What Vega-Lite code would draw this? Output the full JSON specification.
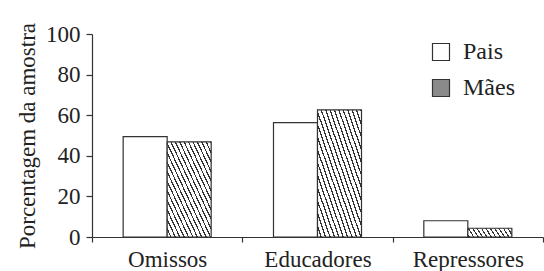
{
  "$schema": "https://vega.github.io/schema/vega-lite/v6.json",
  "autosize": "none",
  "width": 451,
  "height": 203,
  "padding": {"left": 92, "top": 34, "right": 1, "bottom": 34},
  "background": "white",
  "data": {"values": [
    {"categoria": "Omissos", "grupo": "Pais", "valor": 49.4},
    {"categoria": "Omissos", "grupo": "Mães", "valor": 46.9},
    {"categoria": "Educadores", "grupo": "Pais", "valor": 56.3},
    {"categoria": "Educadores", "grupo": "Mães", "valor": 62.6},
    {"categoria": "Repressores", "grupo": "Pais", "valor": 8.0},
    {"categoria": "Repressores", "grupo": "Mães", "valor": 4.3}
  ]},
  "mark": {"type": "bar", "stroke": "#333", "strokeWidth": 1.2},
  "encoding": {
    "x": {"field": "categoria", "type": "nominal", "sort": ["Omissos", "Educadores", "Repressores"],
      "scale": {"paddingInner": 0, "paddingOuter": 0},
      "axis": {"title": null, "labelAngle": 0, "tickBand": "extent", "tickSize": 5, "labelPadding": 6,
        "labelFont": "Liberation Serif", "labelFontSize": 23, "labelColor": "#222"}},
    "xOffset": {"field": "grupo", "type": "nominal", "sort": ["Pais", "Mães"],
      "scale": {"paddingInner": 0, "paddingOuter": 0.708}},
    "y": {"field": "valor", "type": "quantitative",
      "scale": {"domain": [0, 100]},
      "axis": {"title": "Porcentagem da amostra", "values": [0, 20, 40, 60, 80, 100], "grid": false, "tickSize": 6, "labelPadding": 6, "titlePadding": 6,
        "labelFont": "Liberation Serif", "labelFontSize": 23, "labelColor": "#222"}},
    "fill": {
      "condition": {"test": "datum.grupo === 'Mães'", "value": {"gradient": "linear", "x1": 0, "y1": 1, "x2": 1, "y2": 0, "stops": [
        {"offset": 0, "color": "white"}, {"offset": 0.035, "color": "white"}, {"offset": 0.035, "color": "#333"}, {"offset": 0.05, "color": "#333"},
        {"offset": 0.05, "color": "white"}, {"offset": 0.085, "color": "white"}, {"offset": 0.085, "color": "#333"}, {"offset": 0.1, "color": "#333"},
        {"offset": 0.1, "color": "white"}, {"offset": 0.135, "color": "white"}, {"offset": 0.135, "color": "#333"}, {"offset": 0.15, "color": "#333"},
        {"offset": 0.15, "color": "white"}, {"offset": 0.185, "color": "white"}, {"offset": 0.185, "color": "#333"}, {"offset": 0.2, "color": "#333"},
        {"offset": 0.2, "color": "white"}, {"offset": 0.235, "color": "white"}, {"offset": 0.235, "color": "#333"}, {"offset": 0.25, "color": "#333"},
        {"offset": 0.25, "color": "white"}, {"offset": 0.285, "color": "white"}, {"offset": 0.285, "color": "#333"}, {"offset": 0.3, "color": "#333"},
        {"offset": 0.3, "color": "white"}, {"offset": 0.335, "color": "white"}, {"offset": 0.335, "color": "#333"}, {"offset": 0.35, "color": "#333"},
        {"offset": 0.35, "color": "white"}, {"offset": 0.385, "color": "white"}, {"offset": 0.385, "color": "#333"}, {"offset": 0.4, "color": "#333"},
        {"offset": 0.4, "color": "white"}, {"offset": 0.435, "color": "white"}, {"offset": 0.435, "color": "#333"}, {"offset": 0.45, "color": "#333"},
        {"offset": 0.45, "color": "white"}, {"offset": 0.485, "color": "white"}, {"offset": 0.485, "color": "#333"}, {"offset": 0.5, "color": "#333"},
        {"offset": 0.5, "color": "white"}, {"offset": 0.535, "color": "white"}, {"offset": 0.535, "color": "#333"}, {"offset": 0.55, "color": "#333"},
        {"offset": 0.55, "color": "white"}, {"offset": 0.585, "color": "white"}, {"offset": 0.585, "color": "#333"}, {"offset": 0.6, "color": "#333"},
        {"offset": 0.6, "color": "white"}, {"offset": 0.635, "color": "white"}, {"offset": 0.635, "color": "#333"}, {"offset": 0.65, "color": "#333"},
        {"offset": 0.65, "color": "white"}, {"offset": 0.685, "color": "white"}, {"offset": 0.685, "color": "#333"}, {"offset": 0.7, "color": "#333"},
        {"offset": 0.7, "color": "white"}, {"offset": 0.735, "color": "white"}, {"offset": 0.735, "color": "#333"}, {"offset": 0.75, "color": "#333"},
        {"offset": 0.75, "color": "white"}, {"offset": 0.785, "color": "white"}, {"offset": 0.785, "color": "#333"}, {"offset": 0.8, "color": "#333"},
        {"offset": 0.8, "color": "white"}, {"offset": 0.835, "color": "white"}, {"offset": 0.835, "color": "#333"}, {"offset": 0.85, "color": "#333"},
        {"offset": 0.85, "color": "white"}, {"offset": 0.885, "color": "white"}, {"offset": 0.885, "color": "#333"}, {"offset": 0.9, "color": "#333"},
        {"offset": 0.9, "color": "white"}, {"offset": 0.935, "color": "white"}, {"offset": 0.935, "color": "#333"}, {"offset": 0.95, "color": "#333"},
        {"offset": 0.95, "color": "white"}, {"offset": 0.985, "color": "white"}, {"offset": 0.985, "color": "#333"}, {"offset": 1, "color": "#333"}
      ]}},
      "field": "grupo", "type": "nominal", "sort": ["Pais", "Mães"],
      "scale": {"domain": ["Pais", "Mães"], "range": ["white", "#8a8a8a"]},
      "legend": {"title": null, "orient": "none", "legendX": 337, "legendY": 6, "symbolType": "square", "symbolSize": 289,
        "symbolStrokeColor": "#333", "symbolStrokeWidth": 1.2, "labelFontSize": 24, "labelFont": "Liberation Serif", "labelColor": "#222",
        "labelOffset": 10, "rowPadding": 12,
        "encode": {"symbols": {"update": {
          "stroke": {"value": "#333"},
          "strokeWidth": {"value": 1.2},
          "opacity": {"value": 1}
        }}}
      }
    }
  },
  "config": {
    "view": {"stroke": null},
    "font": "Liberation Serif",
    "axis": {"domainColor": "#333", "tickColor": "#333", "domainWidth": 1.2, "tickWidth": 1.2,
      "labelColor": "#222", "labelFont": "Liberation Serif", "labelFontSize": 23,
      "titleColor": "#222", "titleFont": "Liberation Serif", "titleFontSize": 23, "titleFontWeight": "normal"},
    "legend": {"labelColor": "#222", "labelFont": "Liberation Serif"}
  }
}
